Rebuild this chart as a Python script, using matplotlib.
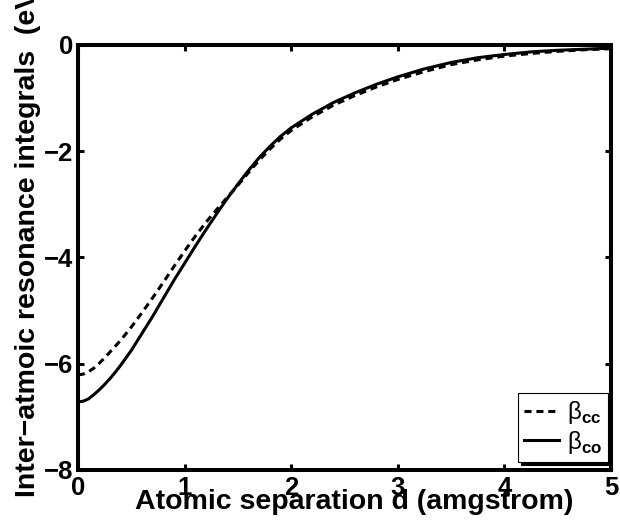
import numpy as np
from matplotlib import pyplot as plt
from matplotlib import rcParams

rcParams['font.family'] = 'Liberation Sans'
rcParams['font.weight'] = 'bold'
rcParams['axes.labelweight'] = 'bold'
rcParams['mathtext.fontset'] = 'custom'
rcParams['mathtext.rm'] = 'Liberation Sans:normal'
rcParams['mathtext.bf'] = 'Liberation Sans:bold'


# atomic separation (angstrom)
d = [0.0, 0.05, 0.1, 0.15, 0.2, 0.25, 0.3, 0.35, 0.4, 0.5,
     0.6, 0.7, 0.8, 0.9, 1.0, 1.1, 1.2, 1.3, 1.4, 1.5,
     1.6, 1.7, 1.8, 1.9, 2.0, 2.2, 2.4, 2.6, 2.8, 3.0,
     3.25, 3.5, 3.75, 4.0, 4.25, 4.5, 4.75, 5.0]

# resonance integral C-C (eV)
beta_cc = [-6.21, -6.195, -6.15, -6.08, -5.99, -5.89, -5.78, -5.67, -5.56, -5.31,
           -5.04, -4.76, -4.47, -4.17, -3.88, -3.60, -3.34, -3.10, -2.87, -2.64,
           -2.40, -2.17, -1.96, -1.77, -1.61, -1.35, -1.13, -0.95, -0.79, -0.65,
           -0.50, -0.37, -0.28, -0.21, -0.16, -0.12, -0.09, -0.07]

# resonance integral C-O (eV)
beta_co = [-6.72, -6.705, -6.66, -6.58, -6.49, -6.39, -6.28, -6.16, -6.03, -5.75,
           -5.43, -5.11, -4.77, -4.43, -4.11, -3.79, -3.48, -3.18, -2.89, -2.62,
           -2.36, -2.12, -1.91, -1.72, -1.56, -1.30, -1.08, -0.90, -0.74, -0.60,
           -0.45, -0.33, -0.24, -0.18, -0.13, -0.10, -0.08, -0.06]

x_ticks = [0, 1, 2, 3, 4, 5]
y_ticks = [-8, -6, -4, -2, 0]


fig = plt.figure(figsize=(6.2, 5.27), dpi=100)
ax = fig.add_axes([0.1258, 0.1082, 0.8597, 0.8065])

ax.plot(d, beta_cc, color='black', lw=2.2, ls=(0, (2.3, 1.6)),
        label=r'$\mathrm{β}_{\mathbf{cc}}$')
ax.plot(d, beta_co, color='black', lw=2.2, ls='-',
        label=r'$\mathrm{β}_{\mathbf{co}}$')

ax.set_xlim(0, 5)
ax.set_ylim(-8, 0)
ax.set_xticks(x_ticks)
ax.set_yticks(y_ticks)

for sp in ax.spines.values():
    sp.set_linewidth(2.9)

ax.tick_params(direction='in', length=4.3, width=2.2, labelsize=18.5,
               top=True, right=True)
ax.tick_params(axis='x', pad=4.3)
ax.tick_params(axis='y', pad=3.6)

ax.set_xlabel('Atomic separation d (amgstrom)', fontsize=20.5)
ax.xaxis.label.set_va('baseline')
ax.xaxis.set_label_coords(0.519, -0.0918)

ax.set_ylabel('Inter\u2212atmoic resonance integrals  (eV)', fontsize=20.5)
ax.yaxis.label.set_va('baseline')
ax.yaxis.set_label_coords(-0.0807, 0.5447)

# legend box in the lower right corner, with a solid black drop shadow
leg = ax.legend(loc='lower right', bbox_to_anchor=(0.9944, 0.0188),
                borderaxespad=0, fontsize=17.5, handlelength=1.45,
                handletextpad=0.3, labelspacing=0.1, borderpad=0.25,
                fancybox=False, framealpha=1,
                shadow={'color': 'black', 'alpha': 1})
leg.get_frame().set_edgecolor('black')
leg.get_frame().set_linewidth(0.8)

fig.savefig('out.png', dpi=100)
